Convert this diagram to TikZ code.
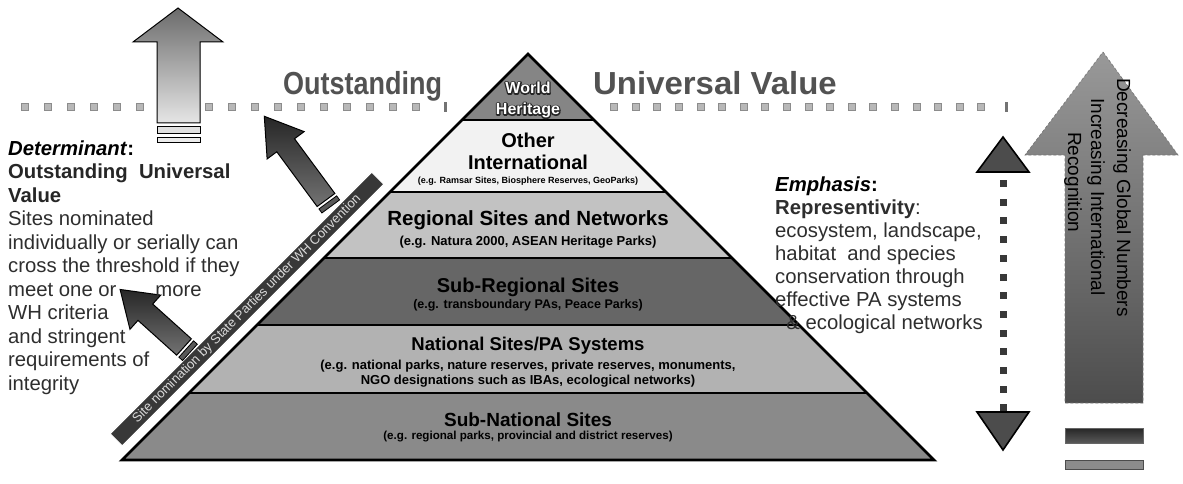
\documentclass[tikz,border=0pt]{standalone}
\usepackage{fontspec}
\setmainfont{Liberation Sans}
\begin{document}
\begin{tikzpicture}[x=1pt,y=-1pt,
  ttl/.style={font=\bfseries\fontsize{27}{30}\selectfont, text=black!68, inner sep=0, anchor=base west},
  body/.style={font=\fontsize{20.3}{23.5}\selectfont, text=black!82, inner sep=0, anchor=base west},
  lbl/.style={font=\bfseries\fontsize{20}{22}\selectfont, inner sep=0},
  sublbl/.style={font=\bfseries\fontsize{13}{15}\selectfont, inner sep=0, align=center},
  whtxt/.style={font=\bfseries\fontsize{16}{21}\selectfont, inner sep=0, align=center},
  sep/.style={line width=2.6pt, line cap=butt},
  dotsq/.style={fill=black!28, draw=black!45, line width=0.5pt},
  darkarrow/.style={draw=black, line width=1pt, line join=miter, top color=black!85, bottom color=black!55},
  ltarrow/.style={draw=black, line width=1pt, top color=black!58, bottom color=black!10},
  bigarrow/.style={draw=black!55, densely dashed, line width=0.6pt, top color=black!40, bottom color=black!70},
  headstyle/.style={draw=black, line width=1.6pt, line join=miter, fill=black!70},
  vtxt/.style={rotate=-90, anchor=base west, inner sep=0, font=\fontsize{19}{22}\selectfont, text=black}
]
\useasboundingbox[fill=white] (0,0) rectangle (1183,484);

% ---------- top dotted threshold rows ----------
\foreach \k in {0,...,17} \filldraw[dotsq] ({25+23*\k-3.5},103.5) rectangle ++(7,7);
\fill[black!55] (444,102) rectangle ++(2.5,10);
\foreach \k in {0,...,17} \filldraw[dotsq] ({614+21.6*\k-3.5},103.5) rectangle ++(7,7);
\fill[black!55] (1005,102) rectangle ++(2.5,10);

% ---------- title ----------
\node[ttl] (t1) at (283,95) {\scalebox{1}[1.18]{Outstanding}};
\node[ttl] (t2) at (593,95) {\scalebox{1.22}[1.18]{Universal Value}};

% ---------- left up arrow ----------
\draw[ltarrow] (178,8) -- (223,42) -- (200,42) -- (200,123) -- (157,123) -- (157,42) -- (133,42) -- cycle;
\filldraw[draw=black, fill=black!12, line width=0.8pt] (157,126) rectangle (200,133);
\filldraw[draw=black, fill=black!8, line width=0.8pt] (157,137) rectangle (200,142);

% ---------- pyramid ----------
\fill[black!48] (528,54) -- (594,120) -- (462,120) -- cycle;
\fill[black!5]  (462,120) -- (594,120) -- (666,192) -- (390,192) -- cycle;
\fill[black!24] (390,192) -- (666,192) -- (732,258) -- (324,258) -- cycle;
\fill[black!60] (324,258) -- (732,258) -- (799,325) -- (257,325) -- cycle;
\fill[black!30] (257,325) -- (799,325) -- (867,393) -- (189,393) -- cycle;
\fill[black!46] (189,393) -- (867,393) -- (934,460) -- (122,460) -- cycle;
\draw[sep] (462,120) -- (594,120);
\draw[sep] (390,192) -- (666,192);
\draw[sep] (324,258) -- (732,258);
\draw[sep] (257,325) -- (799,325);
\draw[sep] (189,393) -- (867,393);
\draw[line width=2.8pt, line join=miter] (528,54) -- (934,460) -- (122,460) -- cycle;

% World Heritage (white text with dark outline)
\node[whtxt, text=black!85] (whbg) at (528,100)
  {\special{pdf:literal direct 2 Tr 2.6 w 1 j 0.15 0.15 0.15 RG}World\\Heritage\special{pdf:literal direct 0 Tr}};
\node[whtxt, text=white] (wh) at (whbg.center) {World\\Heritage};

\node[lbl, align=center] (oi) at (528,151) {Other\\International};
\node[sublbl, font=\bfseries\fontsize{9}{10}\selectfont] (oisub) at (528,181) {(e.g. Ramsar Sites, Biosphere Reserves, GeoParks)};

\node[lbl, font=\bfseries\fontsize{20.5}{22}\selectfont] (rg) at (528,220) {Regional Sites and Networks};
\node[sublbl] (rgsub) at (528,242) {(e.g. Natura 2000, ASEAN Heritage Parks)};

\node[lbl] (sr) at (528,287) {Sub-Regional Sites};
\node[sublbl, font=\bfseries\fontsize{12.5}{15}\selectfont] (srsub) at (528,305) {(e.g. transboundary PAs, Peace Parks)};

\node[lbl, font=\bfseries\fontsize{18.5}{22}\selectfont] (na) at (528,346) {National Sites/PA Systems};
\node[sublbl] (nasub) at (528,374) {(e.g. national parks, nature reserves, private reserves, monuments,\\NGO designations such as IBAs, ecological networks)};

\node[lbl, font=\bfseries\fontsize{19}{22}\selectfont] (sn) at (528,420) {Sub-National Sites};
\node[sublbl, font=\bfseries\fontsize{11.6}{13}\selectfont] (snsub) at (528,437) {(e.g. regional parks, provincial and district reserves)};

% ---------- diagonal band ----------
\node[rotate=45, minimum width=370, minimum height=17, inner sep=0,
      fill=black!78, draw=white, line width=1pt, text=black!15,
      font=\fontsize{13}{13}\selectfont] (band) at (247,309)
      {Site nomination by State Parties under WH Convention};

% ---------- dark arrows ----------
\begin{scope}[shift={(326,200)}, rotate=126.4]
  \draw[darkarrow] (0,-11) -- (68,-11) -- (68,-23) -- (104,0) -- (68,23) -- (68,11) -- (0,11) -- cycle;
  \filldraw[draw=black, fill=black!65, line width=0.8pt] (-8,-11) rectangle (-3,11);
\end{scope}
\begin{scope}[shift={(184,347)}, rotate=138]
  \draw[darkarrow] (0,-11) -- (52,-11) -- (52,-23) -- (86,0) -- (52,23) -- (52,11) -- (0,11) -- cycle;
  \filldraw[draw=black, fill=black!65, line width=0.8pt] (-8,-11) rectangle (-3,11);
\end{scope}

% ---------- left text ----------
\node[body, font=\bfseries\fontsize{20.3}{23.5}\selectfont, text=black] (det) at (8,155) {\textit{Determinant}:};
\node[body, font=\bfseries\fontsize{20.3}{23.5}\selectfont, text=black!85] (ouv1) at (8,178.5) {Outstanding\ \ Universal};
\node[body, font=\bfseries\fontsize{20.3}{23.5}\selectfont, text=black!85] (ouv2) at (8,202) {Value};
\foreach \t [count=\i] in {{Sites nominated},{individually or serially can},{cross the threshold if they},{meet one or\hspace{39pt}more},{WH criteria},{and stringent},{requirements of},{integrity}}
  \node[body] (lt\i) at (8,{225.5+23.5*(\i-1)}) {\t};

% ---------- right text ----------
\node[body, font=\bfseries\fontsize{20.3}{23.5}\selectfont, text=black] (emp) at (775,191) {\textit{Emphasis}:};
\node[body] (rep) at (775,214) {\textbf{Representivity}:};
\foreach \t [count=\i] in {{ecosystem, landscape,},{habitat\ \ and species},{conservation through},{effective PA systems},{\ \ \& ecological networks}}
  \node[body] (rt\i) at (775,{237+23*(\i-1)}) {\t};

% ---------- dotted double arrow ----------
\foreach \k in {0,...,12} \fill[black!78] (999.5,{180+18.7*\k}) rectangle ++(7,7);
\draw[headstyle] (1003,137) -- (1029,172) -- (977,172) -- cycle;
\draw[headstyle] (977,412) -- (1029,412) -- (1003,450) -- cycle;

% ---------- big right arrow ----------
\draw[bigarrow] (1103,52) -- (1178,155) -- (1143,155) -- (1143,403) -- (1065,403) -- (1065,155) -- (1025,155) -- cycle;
\filldraw[draw=black!60, line width=0.8pt, top color=black!85, bottom color=black!65] (1065,428) rectangle (1143,443);
\filldraw[draw=black!70, line width=0.8pt, fill=black!45] (1065,460) rectangle (1143,469);
\node[vtxt] (dg) at (1117,78) {Decreasing Global Numbers};
\node[vtxt] (ii) at (1091,98) {Increasing International};
\node[vtxt] (rc) at (1068,132) {Recognition};
\end{tikzpicture}
\end{document}
